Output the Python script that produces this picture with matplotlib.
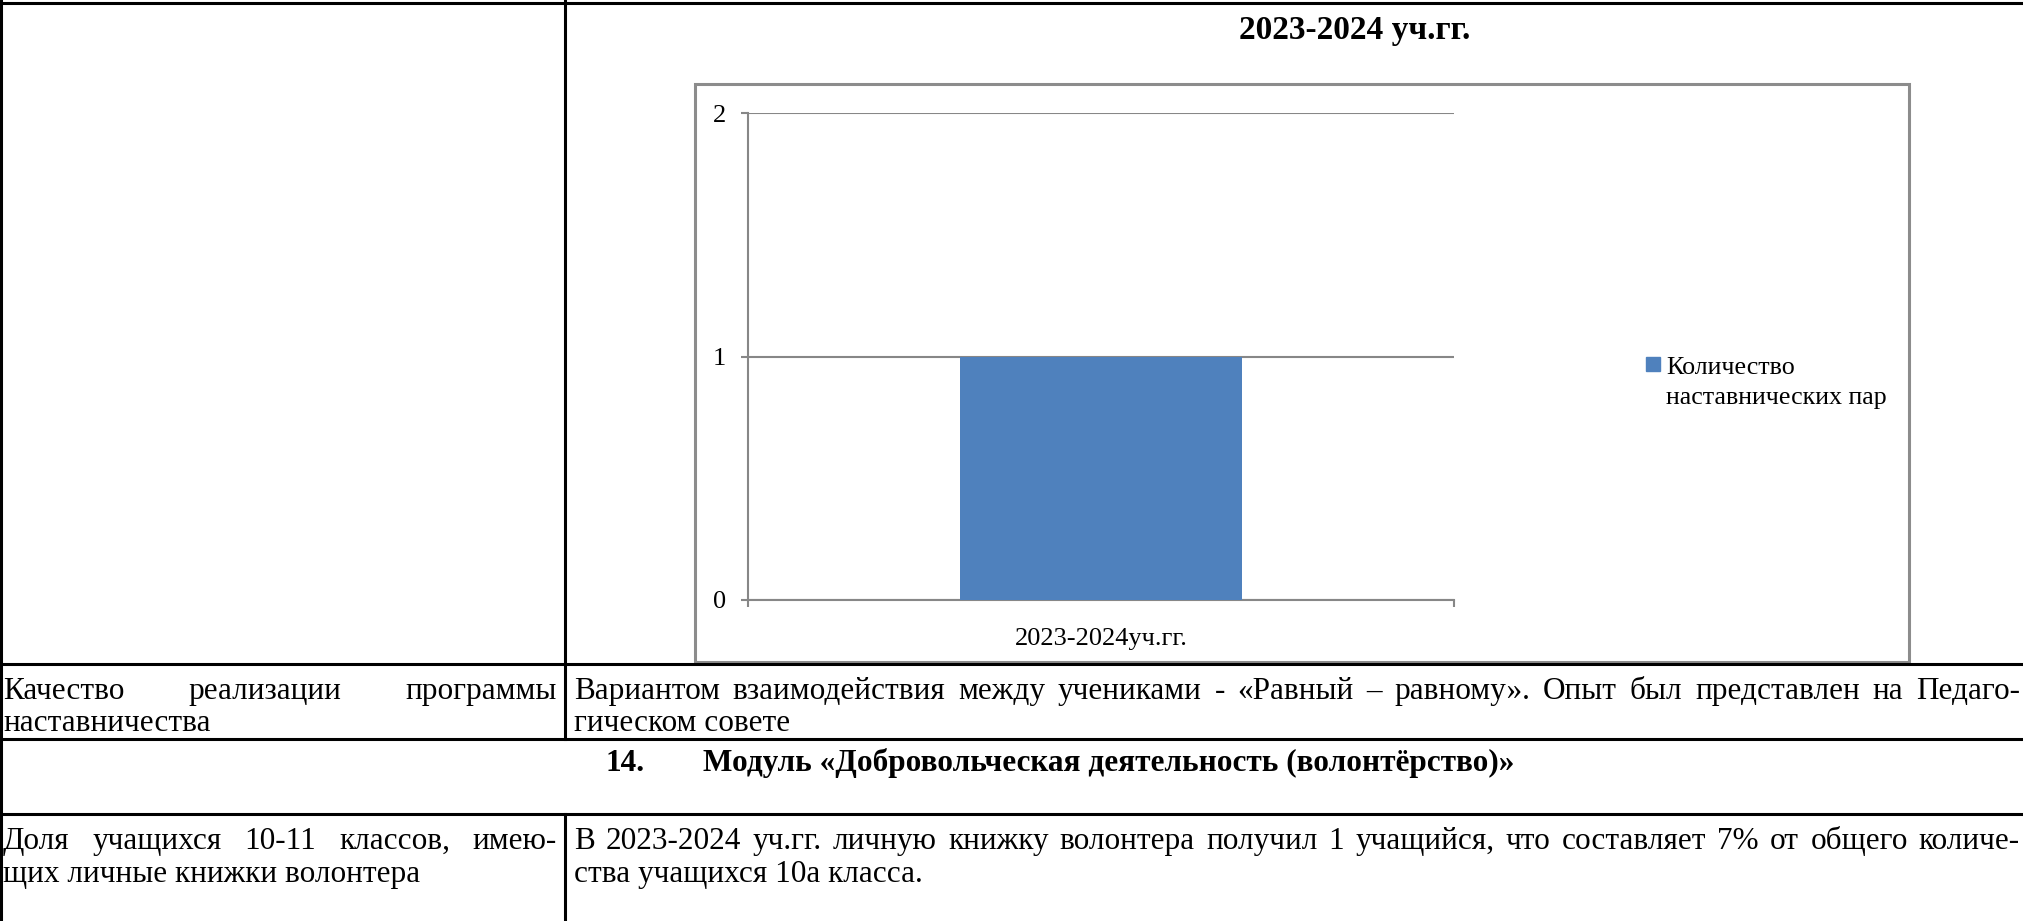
import matplotlib
matplotlib.use('Agg')
import matplotlib.pyplot as plt
from matplotlib.patches import Rectangle

plt.rcParams['font.family'] = ['Liberation Serif', 'DejaVu Serif']

# chart data
categories = ['2023-2024уч.гг.']
values = [1]
series_name = ['Количество', 'наставнических пар']
y_ticks = [0, 1, 2]
chart_title = '2023-2024 уч.гг.'

# table text
row1_left = ['Качество реализации программы', 'наставничества']
row1_right = ['Вариантом взаимодействия между учениками - «Равный – равному». Опыт был представлен на Педаго-',
              'гическом совете']
heading_num = '14.'
heading = 'Модуль «Добровольческая деятельность (волонтёрство)»'
row3_left = ['Доля учащихся 10-11 классов, имею-', 'щих личные книжки волонтера']
row3_right = ['В 2023-2024 уч.гг. личную книжку волонтера получил 1 учащийся, что составляет 7% от общего количе-',
              'ства учащихся 10а класса.']

W, H = 2023, 921
fig = plt.figure(figsize=(W / 100, H / 100), dpi=100)
page = fig.add_axes([0, 0, 1, 1])
page.set_xlim(0, W)
page.set_ylim(H, 0)
page.axis('off')
renderer = fig.canvas.get_renderer()

body = 22.5
lw = 2.2  # table lines


def put_line(x0, x1, y, text, justify=True, **kw):
    words = text.split(' ')
    if not justify or len(words) == 1:
        page.text(x0, y, text, ha='left', va='baseline', **kw)
        return
    arts = [page.text(x0, y, w, ha='left', va='baseline', **kw) for w in words]
    widths = [a.get_window_extent(renderer).width for a in arts]
    gap = (x1 - x0 - sum(widths)) / (len(words) - 1)
    x = x0
    for a, w in zip(arts, widths):
        a.set_x(x)
        x += w + gap


# table grid
col = 565
for y in [3, 664, 739, 814]:
    page.plot([0, W], [y, y], color='black', lw=lw, solid_capstyle='butt')
page.plot([1.5, 1.5], [0, H], color='black', lw=lw)
page.plot([col, col], [0, 739], color='black', lw=lw)
page.plot([col, col], [814, H], color='black', lw=lw)

# table text
lx0, lx1 = 3, 557
rx0, rx1 = 574, 2020
put_line(lx0, lx1, 699, row1_left[0], fontsize=body)
put_line(lx0, lx1, 731, row1_left[1], justify=False, fontsize=body)
put_line(rx0, rx1, 699, row1_right[0], fontsize=body)
put_line(rx0, rx1, 731, row1_right[1], justify=False, fontsize=body)
page.text(606, 771, heading_num, ha='left', va='baseline', fontsize=body, fontweight='bold')
page.text(703, 771, heading, ha='left', va='baseline', fontsize=body, fontweight='bold')
put_line(lx0, lx1, 849, row3_left[0], fontsize=body)
put_line(lx0, lx1, 882, row3_left[1], justify=False, fontsize=body)
put_line(rx0, rx1, 849, row3_right[0], fontsize=body)
put_line(rx0, rx1, 882, row3_right[1], justify=False, fontsize=body)

# chart frame and title
page.add_patch(Rectangle((695, 84), 1909 - 695, 662 - 84, fill=False,
                         edgecolor='#8c8c8c', lw=2.2))
page.text(1355, 30, chart_title, ha='center', va='center', fontsize=24, fontweight='bold')

# chart
grey = '#878787'
bar_color = '#4f81bd'
ax = fig.add_axes([748 / W, (H - 600) / H, (1454 - 748) / W, (600 - 113) / H])
x = list(range(len(categories)))
ax.bar(x, values, width=0.4, color=bar_color, zorder=3)
ax.set_xlim(-0.5, len(categories) - 0.5)
ax.set_ylim(0, 2)
ax.set_yticks(y_ticks)
ax.set_yticklabels([str(v) for v in y_ticks])
ax.set_xticks(x)
ax.set_xticklabels(categories)
ax.set_xticks([i - 0.5 for i in range(len(categories) + 1)], minor=True)
ax.yaxis.grid(True, color=grey, lw=1.5, zorder=0)
for s in ['top', 'right']:
    ax.spines[s].set_visible(False)
for s in ['left', 'bottom']:
    ax.spines[s].set_color(grey)
    ax.spines[s].set_linewidth(1.5)
ax.tick_params(axis='y', direction='out', length=5, width=1.5, color=grey,
               pad=11, labelsize=19)
ax.tick_params(axis='x', which='major', length=0, pad=20, labelsize=19)
ax.tick_params(axis='x', which='minor', direction='out', length=5, width=1.5, color=grey)
ax.patch.set_alpha(0)

# legend
page.add_patch(Rectangle((1646, 357), 14, 14, color=bar_color))
page.text(1666, 374, series_name[0], ha='left', va='baseline', fontsize=18.7)
page.text(1666, 404, series_name[1], ha='left', va='baseline', fontsize=18.7)

fig.savefig('out.png', dpi=100)
